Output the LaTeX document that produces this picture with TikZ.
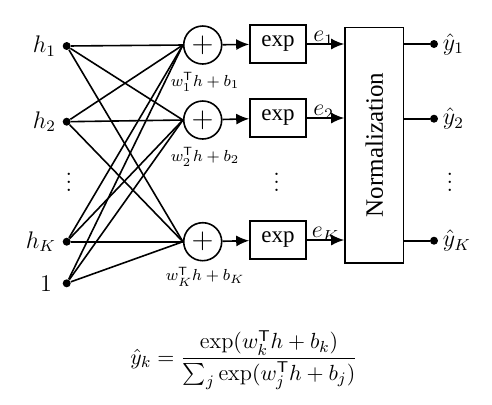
\documentclass[tikz,border=0pt]{standalone}
\usepackage{amsmath}
\usepackage{fontspec}
\newfontfamily\timesfont{Liberation Serif}
\usetikzlibrary{arrows.meta, calc}

\tikzset{
  wire/.style={line width=0.8pt},
  flow/.style={line width=0.8pt, -{Latex[length=6.5pt, width=5.5pt]}},
  dotnode/.style={circle, fill=black, inner sep=0pt, minimum size=4pt},
  sumnode/.style={draw, circle, line width=0.8pt, inner sep=0pt, minimum size=19pt, font=\Large},
  expbox/.style={draw, line width=0.8pt, minimum width=28pt, minimum height=19pt, inner sep=0pt, font=\timesfont\fontsize{11.5}{12}\selectfont},
  sumlabel/.style={font=\fontsize{8.5}{10}\selectfont, inner sep=0pt},
  inlabel/.style={font=\fontsize{12}{14}\selectfont, inner sep=1pt}
}

\begin{document}
\begin{tikzpicture}[x=0.5pt, y=-0.5pt]
  \useasboundingbox (0,0) rectangle (492,404);
  %% inputs
  \node[dotnode, label={[inlabel, label distance=2pt]left:$h_1$}] (h1) at (66.7,46) {};
  \node[dotnode, label={[inlabel, label distance=2pt]left:$h_2$}] (h2) at (66.7,121.7) {};
  \node[inlabel] (hdots) at (69,176) {$\vdots$};
  \node[dotnode, label={[inlabel, label distance=2pt]left:$h_K$}] (hK) at (66.7,241.7) {};
  \node[dotnode, label={[inlabel, label distance=4pt]left:$1$}] (one) at (66.7,283.3) {};
  %% weighted sums
  \node[sumnode] (sum1) at (202.7,45) {$+$};
  \node[sumnode] (sum2) at (202.7,120) {$+$};
  \node[sumnode] (sumK) at (202.7,241.7) {$+$};
  \node[sumlabel] (lab1) at (205,81.7) {$w_1^{\mathsf{T}} h + b_1$};
  \node[sumlabel] (lab2) at (205,156.7) {$w_2^{\mathsf{T}} h + b_2$};
  \node[sumlabel] (labK) at (205,276.7) {$w_K^{\mathsf{T}} h + b_K$};
  %% fully connected layer
  \foreach \src in {h1,h2,hK,one}
    \foreach \dst in {sum1,sum2,sumK}
      \draw[wire] (\src) -- (\dst.west);
  %% exponentials
  \node[expbox] (exp1) at (278,44) {exp};
  \node[expbox] (exp2) at (278,118) {exp};
  \node[inlabel] (edots) at (276.7,176) {$\vdots$};
  \node[expbox] (expK) at (278,240) {exp};
  \draw[flow] (sum1) -- (exp1);
  \draw[flow] (sum2) -- (exp2);
  \draw[flow] (sumK) -- (expK);
  %% normalization block
  \node[draw, line width=0.8pt, minimum width=29.2pt, minimum height=117.7pt, inner sep=0pt] (norm) at (374.2,145)
    {\rotatebox{90}{\timesfont\fontsize{12.5}{14}\selectfont Normalization}};
  \draw[flow] (exp1.east) -- (exp1.east -| norm.west) node[pos=0.45, above=-2pt, inlabel] (e1) {$e_1$};
  \draw[flow] (exp2.east) -- (exp2.east -| norm.west) node[pos=0.45, above=-2pt, inlabel] (e2) {$e_2$};
  \draw[flow] (expK.east) -- (expK.east -| norm.west) node[pos=0.5, above=-2pt, inlabel] (eK) {$e_K$};
  %% outputs
  \node[dotnode, label={[inlabel, label distance=1pt]right:$\hat{y}_1$}] (y1) at (434,44) {};
  \node[dotnode, label={[inlabel, label distance=1pt]right:$\hat{y}_2$}] (y2) at (434,118.7) {};
  \node[inlabel] (ydots) at (450,176) {$\vdots$};
  \node[dotnode, label={[inlabel, label distance=1pt]right:$\hat{y}_K$}] (yK) at (434,240.7) {};
  \draw[wire] (norm.east |- y1) -- (y1);
  \draw[wire] (norm.east |- y2) -- (y2);
  \draw[wire] (norm.east |- yK) -- (yK);
  %% softmax formula
  \node[font=\fontsize{11.2}{13}\selectfont] (softmax) at (244,360)
    {$\hat{y}_k = \dfrac{\exp(w_k^{\mathsf{T}} h + b_k)}{\sum\nolimits_j \exp(w_j^{\mathsf{T}} h + b_j)}$};
\end{tikzpicture}
\end{document}
